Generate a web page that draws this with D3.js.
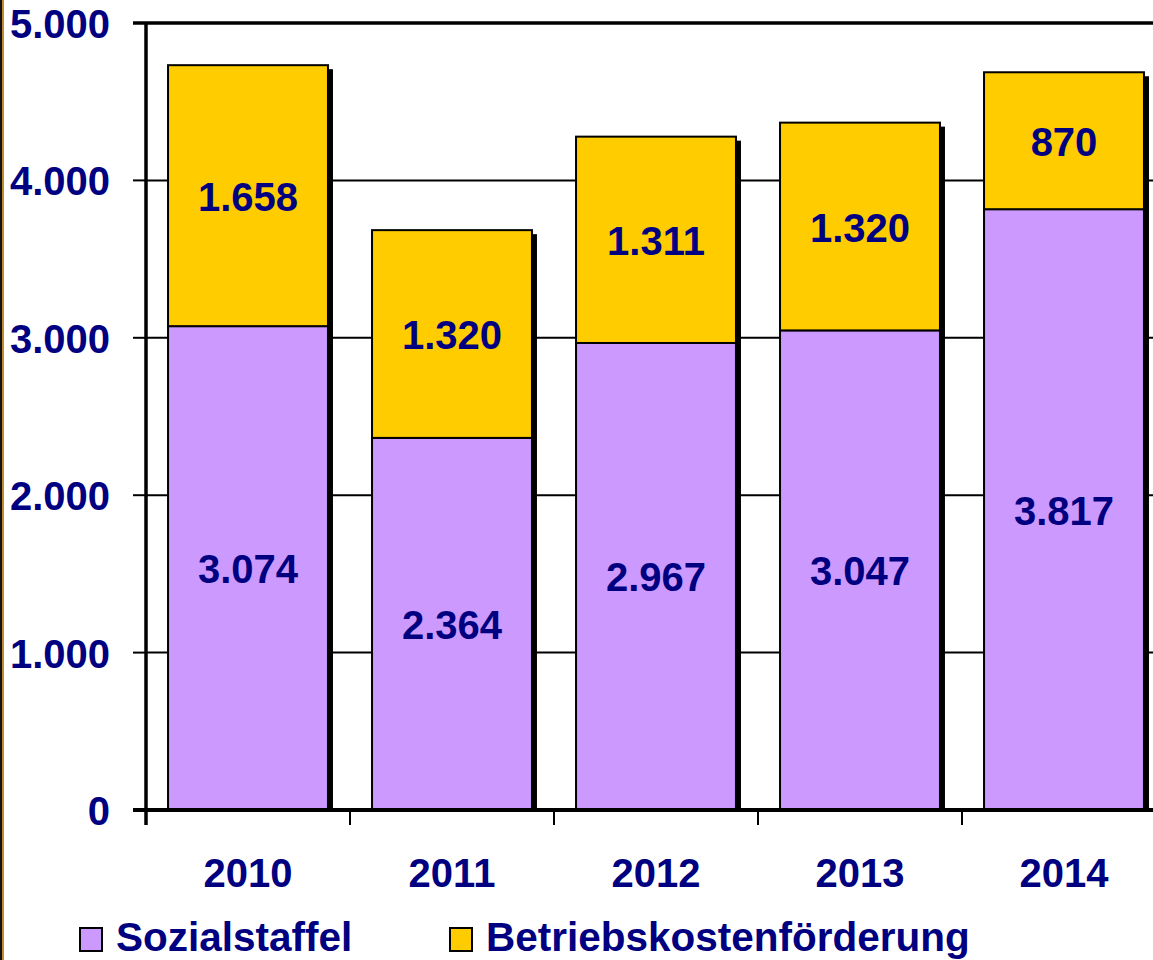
<!DOCTYPE html>
<html>
<head>
<meta charset="utf-8">
<script src="https://cdn.jsdelivr.net/npm/d3@7"></script>
<style>
  body { margin: 0; background: #fff; }
  text { font-family: "Liberation Sans", Arial, sans-serif; font-weight: bold; fill: #000080; }
</style>
</head>
<body>
<svg id="chart" width="1153" height="960"></svg>
<script>
// Data
const years = ["2010", "2011", "2012", "2013", "2014"];
const sozialstaffel = [3074, 2364, 2967, 3047, 3817];
const betriebskosten = [1658, 1320, 1311, 1320, 870];
const yTicks = [0, 1000, 2000, 3000, 4000, 5000];
const seriesNames = ["Sozialstaffel", "Betriebskostenförderung"];
const seriesColors = ["#cc99ff", "#ffcc00"];

const svg = d3.select("#chart");
const fmt = d3.formatLocale({ decimal: ",", thousands: ".", grouping: [3], currency: ["", "€"] }).format(",d");

const plotLeft = 146, plotRight = 1166, plotTop = 23, plotBottom = 810;
const fontSize = 40;

const x = d3.scaleBand().domain(years).range([plotLeft, plotRight])
  .paddingInner(0.216).paddingOuter(0.108);
const y = d3.scaleLinear().domain([0, 5000]).range([plotBottom, plotTop]);

// left page border
svg.append("rect").attr("x", 0).attr("y", 0).attr("width", 2).attr("height", 960).attr("fill", "#111");
svg.append("rect").attr("x", 2).attr("y", 0).attr("width", 2).attr("height", 960).attr("fill", "#c08a30");

// gridlines
svg.append("g").selectAll("line")
  .data(yTicks.filter((d) => d > 0 && d < 5000))
  .enter().append("line")
  .attr("x1", plotLeft).attr("x2", 1153)
  .attr("y1", (d) => y(d)).attr("y2", (d) => y(d))
  .attr("stroke", "#000").attr("stroke-width", 2);

// top frame line
svg.append("line").attr("x1", 133).attr("x2", 1153)
  .attr("y1", y(5000)).attr("y2", y(5000))
  .attr("stroke", "#000").attr("stroke-width", 3.5);

// stacked data
const rows = years.map((yr, i) => ({ year: yr, a: sozialstaffel[i], b: betriebskosten[i] }));
const stack = d3.stack().keys(["a", "b"])(rows);

// shadows
svg.append("g").selectAll("rect")
  .data(rows).enter().append("rect")
  .attr("x", (d) => x(d.year) + 5)
  .attr("y", (d) => y(d.a + d.b) + 4)
  .attr("width", x.bandwidth())
  .attr("height", (d) => plotBottom - y(d.a + d.b) - 4)
  .attr("fill", "#000");

// bars
stack.forEach((layer, li) => {
  svg.append("g").selectAll("rect")
    .data(layer).enter().append("rect")
    .attr("x", (d) => x(d.data.year))
    .attr("y", (d) => y(d[1]))
    .attr("width", x.bandwidth())
    .attr("height", (d) => y(d[0]) - y(d[1]))
    .attr("fill", seriesColors[li])
    .attr("stroke", "#000").attr("stroke-width", 2);

  svg.append("g").selectAll("text")
    .data(layer).enter().append("text")
    .attr("x", (d) => x(d.data.year) + x.bandwidth() / 2)
    .attr("y", (d) => (y(d[0]) + y(d[1])) / 2 + 15)
    .attr("text-anchor", "middle")
    .attr("font-size", fontSize)
    .text((d) => fmt(d[1] - d[0]));
});

// y axis
svg.append("line").attr("x1", plotLeft).attr("x2", plotLeft)
  .attr("y1", plotTop - 1).attr("y2", plotBottom + 15)
  .attr("stroke", "#000").attr("stroke-width", 3.5);
svg.append("g").selectAll("line")
  .data(yTicks).enter().append("line")
  .attr("x1", 133).attr("x2", plotLeft)
  .attr("y1", (d) => y(d)).attr("y2", (d) => y(d))
  .attr("stroke", "#000").attr("stroke-width", 2);
svg.append("g").selectAll("text")
  .data(yTicks).enter().append("text")
  .attr("x", 110)
  .attr("y", (d) => y(d) + 15)
  .attr("text-anchor", "end")
  .attr("font-size", fontSize)
  .text((d) => fmt(d));

// x axis
svg.append("line").attr("x1", 133).attr("x2", 1153)
  .attr("y1", plotBottom).attr("y2", plotBottom)
  .attr("stroke", "#000").attr("stroke-width", 4);
svg.append("g").selectAll("line")
  .data(years).enter().append("line")
  .attr("x1", (d) => x(d) - x.step() * x.paddingInner() / 2)
  .attr("x2", (d) => x(d) - x.step() * x.paddingInner() / 2)
  .attr("y1", plotBottom).attr("y2", plotBottom + 15)
  .attr("stroke", "#000").attr("stroke-width", 2);
svg.append("g").selectAll("text")
  .data(years).enter().append("text")
  .attr("x", (d) => x(d) + x.bandwidth() / 2)
  .attr("y", 887)
  .attr("text-anchor", "middle")
  .attr("font-size", fontSize)
  .text((d) => d);

// legend
const legendX = [80, 450];
seriesNames.forEach((name, i) => {
  svg.append("rect")
    .attr("x", legendX[i]).attr("y", 928)
    .attr("width", 22).attr("height", 23)
    .attr("fill", seriesColors[i])
    .attr("stroke", "#000").attr("stroke-width", 2);
  svg.append("text")
    .attr("x", legendX[i] + 36).attr("y", 951)
    .attr("font-size", 40.5)
    .text(name);
});
</script>
</body>
</html>
